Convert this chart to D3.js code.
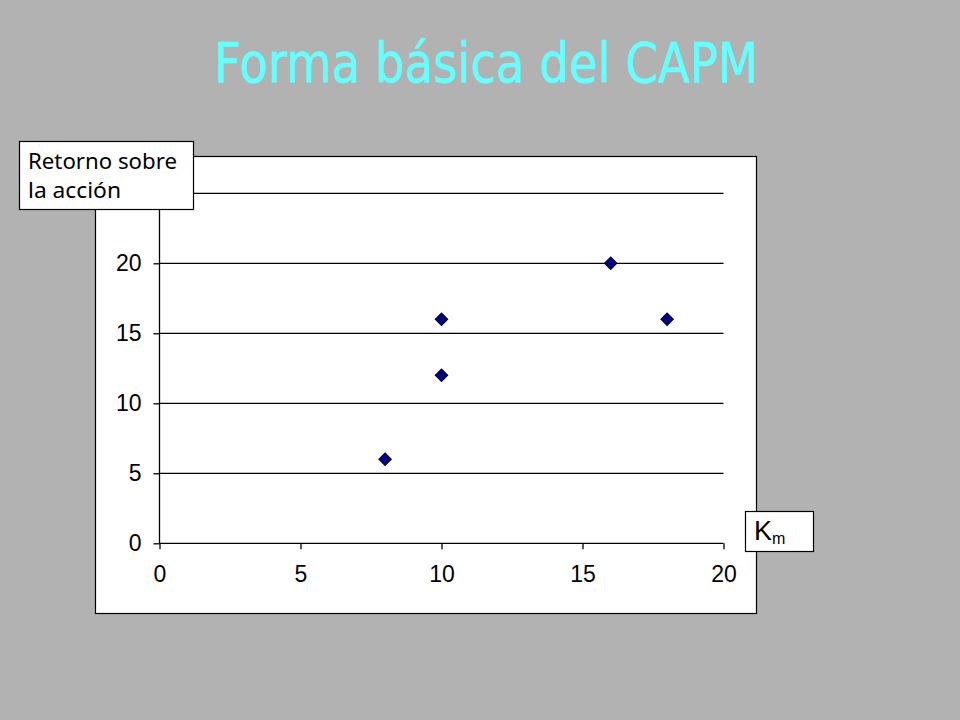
<!DOCTYPE html>
<html>
<head>
<meta charset="utf-8">
<script src="https://cdnjs.cloudflare.com/ajax/libs/d3/7.8.5/d3.min.js"></script>
<style>
    body { margin: 0; background: #b2b2b2; }
    svg { display: block; }
</style>
</head>
<body>
<div id="chart"></div>
<script>

// data
var xValues = [8, 10, 10, 16, 18];
var yValues = [6, 16, 12, 20, 16];
var xTicks = [0, 5, 10, 15, 20];
var yTicks = [0, 5, 10, 15, 20, 25];

var titleText = "Forma básica del CAPM";
var yLabelLines = ["Retorno sobre", "la acción"];

var points = xValues.map(function(d, i) { return {x: d, y: yValues[i]}; });

var svg = d3.select("#chart").append("svg")
    .attr("width", 960)
    .attr("height", 720);

svg.append("rect")
    .attr("width", 960)
    .attr("height", 720)
    .attr("fill", "#b2b2b2");

// title
svg.append("text")
    .attr("x", 486)
    .attr("y", 82)
    .attr("text-anchor", "middle")
    .attr("font-family", "DejaVu Sans, Verdana, sans-serif")
    .attr("font-size", 55)
    .attr("textLength", 544)
    .attr("lengthAdjust", "spacingAndGlyphs")
    .attr("fill", "#66ffff")
    .attr("stroke", "#66ffff")
    .attr("stroke-width", 0.6)
    .text(titleText);

// white chart area
svg.append("rect")
    .attr("x", 95.5)
    .attr("y", 156.5)
    .attr("width", 661)
    .attr("height", 457)
    .attr("fill", "#fff")
    .attr("stroke", "#000")
    .attr("stroke-width", 1.2);

var margin = {top: 193.3, left: 159.5};
var width = 723.5 - margin.left;
var height = 543.3 - margin.top;

var g = svg.append("g")
    .attr("transform", "translate(" + margin.left + "," + margin.top + ")");

// Scales and axes
var x = d3.scaleLinear()
    .range([0, width])
    .domain([0, 20]);

var y = d3.scaleLinear()
    .range([height, 0])
    .domain([0, 25]);

var xAxis = d3.axisBottom(x)
    .tickValues(xTicks)
    .tickSize(6)
    .tickPadding(10);

var yAxis = d3.axisLeft(y)
    .tickValues(yTicks)
    .tickSize(6)
    .tickPadding(12);

// gridlines
g.append("g")
    .selectAll("line")
    .data(yTicks.filter(function(d) { return d > 0; }))
    .enter().append("line")
    .attr("x1", 0)
    .attr("x2", width)
    .attr("y1", function(d) { return y(d); })
    .attr("y2", function(d) { return y(d); })
    .attr("stroke", "#000")
    .attr("stroke-width", 1.3);

var yg = g.append("g")
    .attr("class", "y-axis axis")
    .call(yAxis);

var xg = g.append("g")
    .attr("class", "x-axis axis")
    .attr("transform", "translate(0," + height + ")")
    .call(xAxis);

[xg, yg].forEach(function(a) {
    a.select(".domain").attr("stroke", "#000").attr("stroke-width", 1.3);
    a.selectAll(".tick line").attr("stroke", "#000").attr("stroke-width", 1.3);
    a.selectAll(".tick text")
        .attr("fill", "#000")
        .style("font-family", "Liberation Sans, Arial, sans-serif")
        .style("font-size", "23px");
});
// axisBottom draws outer ticks as part of the domain path; keep it flat
xg.select(".domain").attr("d", "M0,0H" + width);
yg.select(".domain").attr("d", "M0," + height + "V0");
xg.selectAll(".tick text").attr("dy", "1.0em");

// diamond markers
g.selectAll(".pt")
    .data(points)
    .enter().append("path")
    .attr("class", "pt")
    .attr("d", d3.symbol().type(d3.symbolSquare).size(78))
    .attr("transform", function(d) {
        return "translate(" + x(d.x) + "," + y(d.y) + ") rotate(45)";
    })
    .attr("fill", "#000080")
    .attr("stroke", "#000040")
    .attr("stroke-width", 1);

// y axis label box
svg.append("rect")
    .attr("x", 19.5)
    .attr("y", 141.5)
    .attr("width", 174)
    .attr("height", 68)
    .attr("fill", "#fff")
    .attr("stroke", "#000")
    .attr("stroke-width", 1.2);

svg.append("g")
    .selectAll("text")
    .data(yLabelLines)
    .enter().append("text")
    .attr("x", 28)
    .attr("y", function(d, i) { return 169 + i * 29; })
    .attr("font-family", "Noto Sans, Open Sans, sans-serif")
    .attr("font-size", 22)
    .attr("textLength", function(d, i) { return i === 0 ? 149 : 93; })
    .attr("lengthAdjust", "spacingAndGlyphs")
    .attr("fill", "#000")
    .text(function(d) { return d; });

// x axis label box
svg.append("rect")
    .attr("x", 745.5)
    .attr("y", 511.5)
    .attr("width", 68)
    .attr("height", 40)
    .attr("fill", "#fff")
    .attr("stroke", "#000")
    .attr("stroke-width", 1.2);

var km = svg.append("text")
    .attr("x", 754)
    .attr("y", 540)
    .attr("font-family", "Liberation Sans, Arial, sans-serif")
    .attr("font-size", 27)
    .attr("fill", "#000");
km.append("tspan").text("K");
km.append("tspan")
    .attr("dy", 4)
    .attr("font-size", 16)
    .text("m");

</script>
</body>
</html>
